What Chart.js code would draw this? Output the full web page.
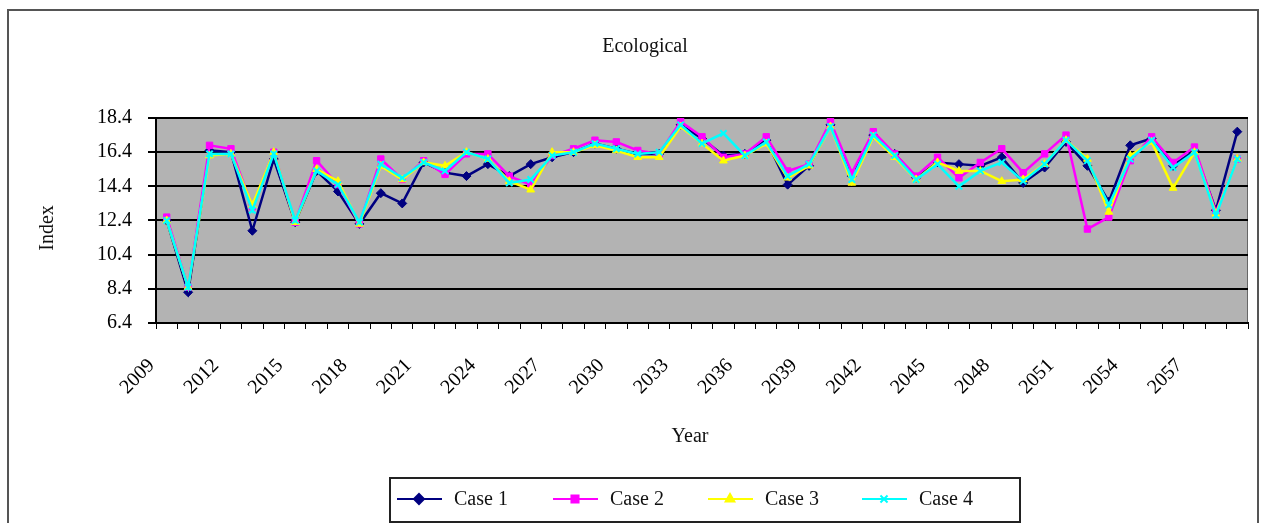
<!DOCTYPE html>
<html>
<head>
<meta charset="utf-8">
<script src="https://cdn.jsdelivr.net/npm/chart.js@4.4.1/dist/chart.umd.min.js"></script>
<style>
  html, body { margin: 0; padding: 0; background: #fff; }
  #wrap { width: 1266px; height: 523px; }
</style>
</head>
<body>
<div id="wrap"><canvas id="chart" width="1266" height="523"></canvas></div>
<script>
// Years on the category axis
const years = ["2009","2010","2011","2012","2013","2014","2015","2016","2017","2018",
  "2019","2020","2021","2022","2023","2024","2025","2026","2027","2028",
  "2029","2030","2031","2032","2033","2034","2035","2036","2037","2038",
  "2039","2040","2041","2042","2043","2044","2045","2046","2047","2048",
  "2049","2050","2051","2052","2053","2054","2055","2056","2057","2058","2059"];

// Index values
const case1 = [12.4, 8.2, 16.5, 16.4, 11.8, 16.0, 12.3, 15.3, 14.1, 12.2,
  14.0, 13.4, 15.8, 15.2, 15.0, 15.7, 15.0, 15.7, 16.1, 16.4,
  16.9, 16.6, 16.3, 16.3, 18.0, 17.2, 16.2, 16.3, 17.1, 14.5,
  15.6, 18.0, 15.0, 17.4, 16.3, 14.9, 15.8, 15.7, 15.6, 16.1,
  14.6, 15.5, 17.0, 15.6, 13.5, 16.8, 17.2, 15.6, 16.5, 13.0, 17.6];
const case2 = [12.6, 8.5, 16.8, 16.6, 13.2, 16.4, 12.3, 15.9, 14.5, 12.2,
  16.0, 14.8, 15.9, 15.1, 16.3, 16.3, 15.0, 14.5, 16.2, 16.6,
  17.1, 17.0, 16.5, 16.3, 18.2, 17.3, 16.1, 16.3, 17.3, 15.3,
  15.7, 18.2, 15.2, 17.6, 16.3, 15.0, 16.1, 14.9, 15.8, 16.6,
  15.2, 16.3, 17.4, 11.9, 12.6, 15.9, 17.3, 15.8, 16.7, 12.9, 16.0];
const case3 = [12.4, 8.5, 16.2, 16.3, 13.3, 16.4, 12.3, 15.4, 14.7, 12.2,
  15.6, 14.8, 15.8, 15.6, 16.4, 16.0, 14.7, 14.2, 16.4, 16.4,
  16.8, 16.5, 16.1, 16.1, 17.9, 16.9, 15.9, 16.2, 16.9, 14.9,
  15.6, 17.9, 14.6, 17.3, 16.1, 14.8, 15.8, 15.3, 15.3, 14.7,
  14.8, 15.7, 17.1, 16.0, 12.9, 16.2, 17.0, 14.3, 16.4, 12.8, 16.0];
const case4 = [12.4, 8.5, 16.3, 16.3, 13.0, 16.3, 12.4, 15.3, 14.5, 12.3,
  15.7, 14.9, 15.8, 15.3, 16.4, 16.0, 14.6, 14.8, 16.2, 16.4,
  16.9, 16.6, 16.3, 16.4, 18.0, 16.9, 17.5, 16.2, 17.0, 15.0,
  15.7, 17.9, 14.8, 17.4, 16.2, 14.8, 15.7, 14.4, 15.3, 15.8,
  14.7, 15.7, 17.1, 15.9, 13.3, 16.0, 17.1, 15.5, 16.4, 12.7, 16.0];

const seriesNames = ["Case 1", "Case 2", "Case 3", "Case 4"];
const seriesColors = ["#000080", "#ff00ff", "#ffff00", "#00ffff"];
const seriesMarkers = ["rectRot", "rect", "triangle", "crossRot"];

const yTicks = [6.4, 8.4, 10.4, 12.4, 14.4, 16.4, 18.4];

const serif = '"Liberation Serif", "Times New Roman", serif';

// frame, grey plot area, titles and the boxed legend
const decor = {
  id: "decor",
  beforeDraw(chart) {
    const { ctx, chartArea: a } = chart;
    ctx.save();
    ctx.fillStyle = "#fff";
    ctx.fillRect(0, 0, chart.width, chart.height);
    ctx.strokeStyle = "#555";
    ctx.lineWidth = 2;
    ctx.strokeRect(8, 10, 1250, 540);
    ctx.fillStyle = "#b3b3b3";
    ctx.fillRect(a.left, a.top, a.right - a.left, a.bottom - a.top);
    ctx.strokeStyle = "#666";
    ctx.lineWidth = 1;
    ctx.beginPath();
    ctx.moveTo(a.left, a.top + 0.5);
    ctx.lineTo(a.right - 0.5, a.top + 0.5);
    ctx.lineTo(a.right - 0.5, a.bottom);
    ctx.stroke();
    ctx.restore();
  },
  afterDraw(chart) {
    const { ctx } = chart;
    ctx.save();
    ctx.fillStyle = "#111";
    ctx.font = "20px " + serif;
    ctx.textAlign = "center";
    ctx.textBaseline = "middle";
    ctx.fillText("Ecological", 645, 47);
    ctx.fillText("Year", 690, 437);
    ctx.save();
    ctx.translate(48, 228);
    ctx.rotate(-Math.PI / 2);
    ctx.fillText("Index", 0, 0);
    ctx.restore();

    // legend
    ctx.strokeStyle = "#222";
    ctx.lineWidth = 2;
    ctx.strokeRect(390, 478, 630, 44);
    const ly = 499;
    const starts = [397, 553, 708, 862];
    ctx.textAlign = "left";
    seriesNames.forEach((name, i) => {
      const x0 = starts[i];
      ctx.strokeStyle = seriesColors[i];
      ctx.fillStyle = seriesColors[i];
      ctx.lineWidth = 2;
      ctx.beginPath();
      ctx.moveTo(x0, ly);
      ctx.lineTo(x0 + 45, ly);
      ctx.stroke();
      Chart.helpers.drawPoint(ctx, { pointStyle: seriesMarkers[i], radius: 5, borderWidth: 2, rotation: 0 }, x0 + 22, ly);
      ctx.fillStyle = "#111";
      ctx.fillText(name, x0 + 57, ly + 1);
    });
    ctx.restore();
  }
};

const datasets = [case1, case2, case3, case4].map((vals, i) => ({
  label: seriesNames[i],
  data: vals,
  borderColor: seriesColors[i],
  backgroundColor: seriesColors[i],
  borderWidth: 2.5,
  pointStyle: seriesMarkers[i],
  pointRadius: 4.5,
  pointBorderWidth: i === 3 ? 2 : 1,
  tension: 0,
  order: 4 - i
}));

new Chart(document.getElementById("chart"), {
  type: "line",
  data: { labels: years, datasets: datasets },
  options: {
    responsive: false,
    devicePixelRatio: 1,
    animation: false,
    layout: { padding: { top: 118, right: 18, bottom: 0, left: 0 } },
    plugins: {
      legend: { display: false },
      title: { display: false },
      tooltip: { enabled: false }
    },
    scales: {
      x: {
        offset: true,
        grid: { offset: true, drawOnChartArea: false, drawTicks: true, tickLength: 6, color: "#000", lineWidth: 1 },
        border: { display: true, color: "#000", width: 2 },
        ticks: {
          autoSkip: false,
          minRotation: 45,
          maxRotation: 45,
          padding: 25,
          labelOffset: -15,
          color: "#000",
          font: { family: serif, size: 20 },
          callback: (v, i) => (i % 3 === 0 ? years[i] : "")
        },
        afterFit: (s) => {
          s.height = 200;
          s.paddingLeft = 0;
          s.paddingRight = 0;
        }
      },
      y: {
        min: yTicks[0],
        max: yTicks[yTicks.length - 1],
        afterBuildTicks: (s) => { s.ticks = yTicks.map(v => ({ value: v })); },
        grid: { color: "#000", lineWidth: 2, tickLength: 8 },
        border: { display: true, color: "#000", width: 2 },
        ticks: {
          padding: 16,
          color: "#000",
          font: { family: serif, size: 20 },
          callback: (v) => Number(v).toFixed(1)
        },
        afterFit: (s) => { s.width = 156; }
      }
    }
  },
  plugins: [decor]
});
</script>
</body>
</html>
